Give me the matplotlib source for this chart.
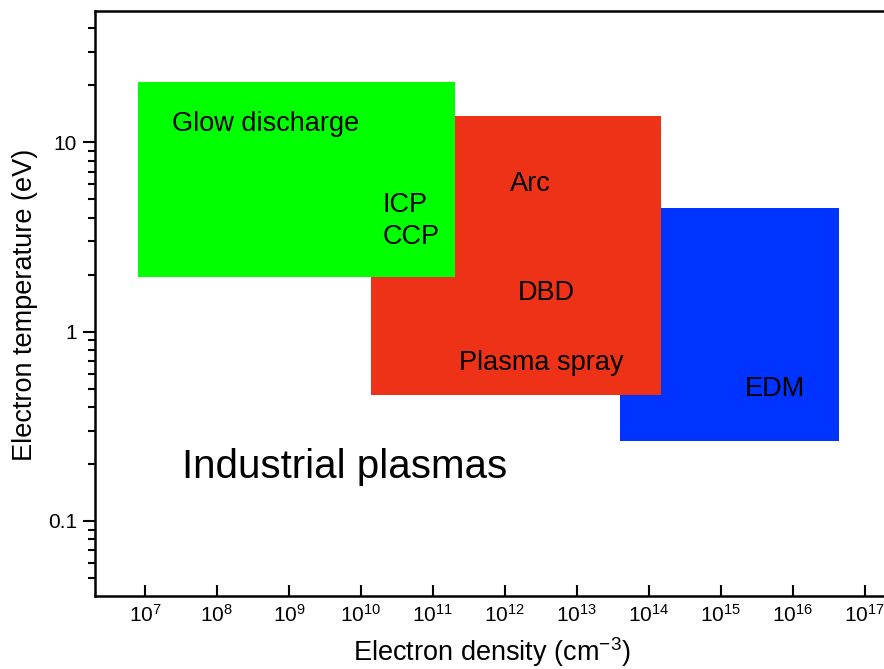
import numpy as np
import matplotlib
matplotlib.use("Agg")
from matplotlib import pyplot as plt
from matplotlib.patches import Rectangle
from matplotlib.ticker import LogLocator, NullFormatter, NullLocator

plt.rcParams['font.family'] = ['Liberation Sans', 'DejaVu Sans']
plt.rcParams['mathtext.fontset'] = 'custom'
plt.rcParams['mathtext.rm'] = 'Liberation Sans'
plt.rcParams['mathtext.it'] = 'Liberation Sans:italic'
plt.rcParams['mathtext.default'] = 'regular'

# plasma regions: density range (cm^-3) and temperature range (eV)
names = ["EDM", "Thermal", "Glow"]
dens_lo = [4.0e13, 1.4e10, 8.0e6]
dens_hi = [4.4e16, 1.5e14, 2.0e11]
temp_lo = [0.265, 0.46, 1.95]
temp_hi = [4.5, 13.7, 20.7]
colors = ["#0033FF", "#EE3218", "#00FF00"]

# labels inside the plot (left edge, baseline)
label_text = ["Glow discharge", "ICP", "CCP", "Arc", "DBD", "Plasma spray", "EDM"]
label_x = [2.37e7, 2.0e10, 2.0e10, 1.17e12, 1.5e12, 2.3e11, 2.15e15]
label_y = [11.43, 4.26, 2.89, 5.51, 1.46, 0.629, 0.4585]

x_ticks = [10.0 ** k for k in range(7, 18)]
x_ticklabels = ["$10^{%d}$" % k for k in range(7, 18)]
y_ticks = [0.1, 1, 10]
y_ticklabels = ["0.1", "1", "10"]

fig = plt.figure(figsize=(8.84, 6.69), dpi=100)
ax = fig.add_axes([95 / 884, 73 / 669, 805 / 884, 585 / 669])
ax.set_xscale("log")
ax.set_yscale("log")
ax.set_xlim(10 ** 6.306, 10 ** 17.49)
ax.set_ylim(10 ** -1.397, 10 ** 1.693)

for i in range(len(names)):
    ax.add_patch(Rectangle((dens_lo[i], temp_lo[i]), dens_hi[i] - dens_lo[i],
                           temp_hi[i] - temp_lo[i], facecolor=colors[i],
                           edgecolor="none", zorder=1 + i))

for t, x, y in zip(label_text, label_x, label_y):
    ax.text(x, y, t, fontsize=19.5, ha="left", va="baseline", zorder=10)

ax.text(3.27e7, 0.1689, "Industrial plasmas", fontsize=29, ha="left", va="baseline", zorder=10)

ax.set_xticks(x_ticks)
ax.set_xticklabels(x_ticklabels)
ax.xaxis.set_minor_locator(NullLocator())
ax.set_yticks(y_ticks)
ax.set_yticklabels(y_ticklabels)
ax.yaxis.set_minor_locator(LogLocator(base=10, subs=np.arange(2, 10)))
ax.yaxis.set_minor_formatter(NullFormatter())

ax.tick_params(axis="x", which="major", direction="in", length=8, width=1.5,
               labelsize=15, pad=6, top=False)
ax.tick_params(axis="y", which="major", direction="out", length=9, width=1.5,
               labelsize=15, pad=4, right=False)
ax.tick_params(axis="y", which="minor", direction="out", length=5, width=1.5, right=False)

for s in ax.spines.values():
    s.set_linewidth(1.8)

# axis titles placed by hand, close to the bottom edge as in the original
fig.text(492 / 884, 8 / 669, "Electron density (cm$^{-3}$)", fontsize=19.5,
         ha="center", va="baseline")
fig.text(25 / 884, 1 - 305 / 669, "Electron temperature (eV)", fontsize=19.5,
         ha="center", va="center", rotation=90)

fig.savefig("out.png", dpi=100)
